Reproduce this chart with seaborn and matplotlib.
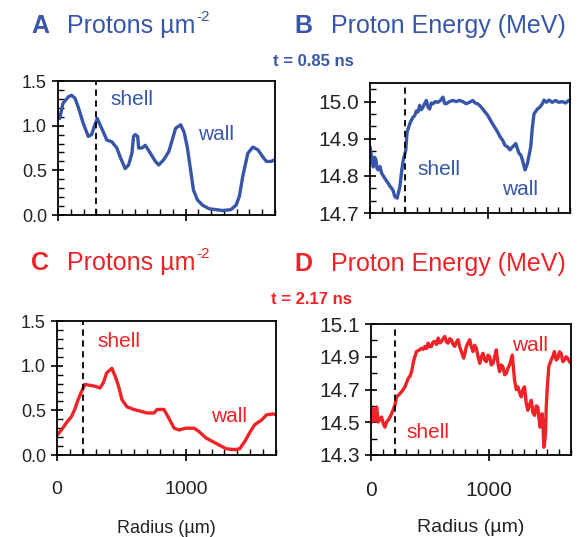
import matplotlib
matplotlib.use("Agg")
import matplotlib.pyplot as plt
import numpy as np
import pandas as pd
import seaborn as sns
from matplotlib.ticker import MultipleLocator

# panel A: protons per um^2 at t = 0.85 ns
a_r = [0, 13, 39, 79, 105, 132, 158, 197, 237, 263, 289, 308, 329, 355, 382, 421, 461, 487,
       526, 553, 579, 592, 605, 624, 632, 658, 684, 724, 763, 789, 829, 868, 895, 921, 961,
       987, 1013, 1039, 1061, 1092, 1132, 1184, 1237, 1289, 1355, 1395, 1421, 1447, 1487,
       1526, 1566, 1605, 1632, 1671, 1700]
a_val = [1.12, 1.08, 1.25, 1.32, 1.34, 1.31, 1.21, 1.03, 0.88, 0.90, 1.01, 1.08, 1.01, 0.93,
         0.84, 0.82, 0.75, 0.65, 0.52, 0.56, 0.69, 0.88, 0.90, 0.88, 0.75, 0.75, 0.78, 0.69,
         0.60, 0.56, 0.62, 0.71, 0.84, 0.97, 1.01, 0.93, 0.76, 0.50, 0.28, 0.17, 0.11, 0.07,
         0.06, 0.05, 0.06, 0.11, 0.21, 0.43, 0.69, 0.76, 0.73, 0.65, 0.60, 0.60, 0.62]

# panel B: proton energy (MeV) at t = 0.85 ns
b_r = [0, 14, 28, 40, 51, 60, 70, 85, 99, 113, 127, 141, 155, 169, 183, 197, 211, 231, 254,
       268, 282, 304, 315, 338, 352, 366, 380, 394, 408, 422, 436, 451, 465, 479, 493, 507,
       521, 535, 556, 577, 599, 620, 634, 648, 676, 704, 732, 761, 789, 817, 845, 873, 894,
       915, 937, 958, 1000, 1042, 1085, 1106, 1127, 1148, 1169, 1190, 1211, 1225, 1239,
       1254, 1268, 1282, 1296, 1318, 1338, 1352, 1366, 1380, 1394, 1423, 1444, 1465, 1479,
       1500, 1521, 1549, 1577, 1605, 1634, 1662, 1690]
b_val = [14.878, 14.851, 14.824, 14.850, 14.842, 14.820, 14.816, 14.825, 14.807, 14.800,
         14.793, 14.786, 14.780, 14.772, 14.767, 14.760, 14.744, 14.740, 14.771, 14.810,
         14.842, 14.869, 14.918, 14.940, 14.950, 14.958, 14.962, 14.975, 14.972, 14.990,
         14.978, 14.985, 14.995, 15.003, 14.985, 14.980, 14.996, 14.994, 15.000, 14.998,
         15.003, 15.012, 14.995, 14.994, 15.000, 15.003, 15.000, 15.003, 15.000, 14.994,
         14.998, 15.003, 14.996, 14.994, 14.988, 14.980, 14.963, 14.940, 14.918, 14.905,
         14.896, 14.882, 14.878, 14.870, 14.878, 14.882, 14.887, 14.872, 14.860, 14.856,
         14.842, 14.816, 14.833, 14.855, 14.878, 14.930, 14.967, 14.980, 14.985, 14.994,
         15.004, 14.998, 15.004, 14.998, 15.003, 14.998, 15.000, 14.996, 15.003]

# panel C: protons per um^2 at t = 2.17 ns
c_r = [0, 34, 73, 112, 138, 164, 190, 217, 256, 295, 334, 360, 386, 426, 452, 478, 504, 543,
       595, 648, 700, 752, 778, 830, 869, 909, 948, 1000, 1065, 1104, 1157, 1209, 1261,
       1313, 1379, 1418, 1457, 1496, 1535, 1587, 1627, 1679, 1700]
c_val = [0.22, 0.28, 0.36, 0.43, 0.51, 0.62, 0.71, 0.79, 0.78, 0.77, 0.75, 0.81, 0.92, 0.97,
         0.88, 0.77, 0.62, 0.54, 0.51, 0.49, 0.47, 0.47, 0.51, 0.51, 0.41, 0.30, 0.28, 0.30,
         0.30, 0.26, 0.19, 0.15, 0.11, 0.07, 0.06, 0.07, 0.15, 0.25, 0.34, 0.39, 0.45, 0.46,
         0.45]

# panel D: proton energy (MeV) at t = 2.17 ns
d_r = [0, 6, 20, 34, 48, 62, 76, 90, 105, 119, 133, 155, 175, 203, 218, 240, 260, 274, 288,
       302, 316, 330, 345, 364, 387, 408, 429, 444, 458, 472, 486, 500, 514, 528, 542, 557,
       571, 585, 599, 613, 627, 641, 655, 669, 683, 698, 712, 726, 740, 754, 768, 788, 811,
       825, 839, 853, 867, 881, 895, 910, 924, 938, 952, 966, 980, 994, 1008, 1022, 1037,
       1051, 1065, 1079, 1093, 1107, 1121, 1136, 1150, 1164, 1178, 1201, 1220, 1235, 1249,
       1263, 1277, 1291, 1305, 1319, 1333, 1348, 1362, 1376, 1390, 1404, 1418, 1428, 1438,
       1446, 1455, 1462, 1469, 1476, 1483, 1490, 1497, 1511, 1531, 1545, 1559, 1574, 1588,
       1602, 1616, 1630, 1644, 1658, 1672, 1687, 1700]
d_val = [14.563, 14.501, 14.583, 14.511, 14.592, 14.501, 14.520, 14.532, 14.490, 14.470,
         14.501, 14.522, 14.552, 14.604, 14.655, 14.670, 14.686, 14.700, 14.716, 14.740,
         14.768, 14.780, 14.809, 14.880, 14.932, 14.940, 14.952, 14.945, 14.963, 14.950,
         14.983, 14.960, 14.963, 14.990, 14.993, 14.975, 15.014, 14.985, 14.993, 15.010,
         15.024, 14.990, 14.983, 15.010, 15.004, 14.975, 14.963, 14.990, 15.004, 14.960,
         14.932, 14.891, 14.963, 14.985, 15.004, 14.960, 14.932, 14.970, 14.952, 14.900,
         14.860, 14.900, 14.921, 14.880, 14.870, 14.910, 14.901, 14.850, 14.860, 14.900,
         14.942, 14.860, 14.809, 14.850, 14.839, 14.790, 14.799, 14.830, 14.850, 14.911,
         14.757, 14.700, 14.716, 14.680, 14.655, 14.700, 14.716, 14.620, 14.573, 14.610,
         14.634, 14.560, 14.542, 14.600, 14.593, 14.520, 14.470, 14.530, 14.552, 14.480,
         14.347, 14.380, 14.429, 14.600, 14.696, 14.839, 14.880, 14.900, 14.932, 14.880,
         14.891, 14.930, 14.921, 14.870, 14.880, 14.900, 14.891, 14.870, 14.860]

shell_r = [300, 300, 200, 200]
blue = "#3756a8"
red = "#ee2227"

sns.set_theme(style="ticks")
plt.rcParams["font.family"] = ["Liberation Sans", "DejaVu Sans"]

fig = plt.figure(figsize=(5.87, 5.37), dpi=100)
W, H = 587.0, 537.0


def box(l, t, r, b):
    return [l / W, 1 - b / H, (r - l) / W, (b - t) / H]


axA = fig.add_axes(box(58, 81, 275, 215))
axB = fig.add_axes(box(370, 83, 570, 213))
axC = fig.add_axes(box(57, 321, 276, 455))
axD = fig.add_axes(box(371, 324, 571, 455))

panels = [
    (axA, a_r, a_val, blue, (0, 1.5), [0, 0.5, 1.0, 1.5], 0.1, 13, shell_r[0]),
    (axB, b_r, b_val, blue, (14.7, 15.05), [14.7, 14.8, 14.9, 15.0], 0.1 / 3, 15, shell_r[1]),
    (axC, c_r, c_val, red, (0, 1.5), [0, 0.5, 1.0, 1.5], 0.1, 13, shell_r[2]),
    (axD, d_r, d_val, red, (14.3, 15.1), [14.3, 14.5, 14.7, 14.9, 15.1], 0.1, 15, shell_r[3]),
]

for ax, r, v, col, ylim, yt, ymin, fs, sh in panels:
    df = pd.DataFrame({"r": r, "v": v})
    sns.lineplot(data=df, x="r", y="v", ax=ax, color=col, lw=2.4, estimator=None, sort=False)
    ax.axvline(sh, color="black", ls=(0, (3.5, 2.5)), lw=1.3)
    ax.set_xlim(0, 1700)
    ax.set_ylim(*ylim)
    ax.set_yticks(yt)
    ax.set_yticklabels([f"{t:.1f}" for t in yt], fontsize=fs, color="#222222")
    ax.yaxis.set_minor_locator(MultipleLocator(ymin))
    ax.set_xticks([0, 1000])
    ax.xaxis.set_minor_locator(MultipleLocator(100))
    ax.tick_params(which="major", direction="inout", length=9, width=1.2, color="black")
    ax.tick_params(which="minor", direction="in", length=4, width=1.0, color="black")
    ax.set_xlabel("")
    ax.set_ylabel("")
    ax.set_facecolor("white")
    for s in ax.spines.values():
        s.set_color("black")
        s.set_linewidth(1.3)

axA.set_xticklabels([])
axB.set_xticklabels([])
axC.set_xticklabels(["0", "1000"], fontsize=14, color="#222222")
axD.set_xticklabels(["0", "1000"], fontsize=15, color="#222222")
axC.tick_params(axis="x", pad=14)
axD.tick_params(axis="x", pad=14)
axC.set_xlabel("Radius (µm)", fontsize=13, color="#222222", labelpad=16)
axD.set_xlabel("Radius (µm)", fontsize=14, color="#222222", labelpad=14)

# shell / wall labels
axA.text(410, 1.29, "shell", color=blue, fontsize=15, va="center")
axA.text(1100, 0.90, "wall", color=blue, fontsize=15, va="center")
axB.text(405, 14.816, "shell", color=blue, fontsize=15, va="center")
axB.text(1124, 14.762, "wall", color=blue, fontsize=15, va="center")
axC.text(311, 1.27, "shell", color=red, fontsize=15, va="center")
axC.text(1196, 0.43, "wall", color=red, fontsize=15, va="center")
axD.text(305, 14.437, "shell", color=red, fontsize=15, va="center")
axD.text(1203, 14.97, "wall", color=red, fontsize=15, va="center")

# panel titles
titles = [
    ("A", "Protons µm", 31, 67, 33, blue),
    ("B", "Proton Energy (MeV)", 294, 331, 33, blue),
    ("C", "Protons µm", 31, 67, 270, red),
    ("D", "Proton Energy (MeV)", 294, 331, 271, red),
]
renderer = fig.canvas.get_renderer()
for letter, label, xl, xt, yb, col in titles:
    fig.text(xl / W, 1 - yb / H, letter, color=col, fontsize=18, fontweight="bold", va="baseline")
    t = fig.text(xt / W, 1 - yb / H, label, color=col, fontsize=18, va="baseline")
    if label.startswith("Protons"):
        bb = t.get_window_extent(renderer)
        fig.text((bb.x1 + 1) / W, 1 - (yb - 12) / H, "-2", color=col, fontsize=11,
                 va="baseline")

fig.text(313 / W, 1 - 62 / H, "t = 0.85 ns", color=blue, fontsize=12, fontweight="bold",
         ha="center", va="center")
fig.text(311 / W, 1 - 300 / H, "t = 2.17 ns", color=red, fontsize=12, fontweight="bold",
         ha="center", va="center")

fig.savefig("out.png", dpi=100, facecolor="white")
